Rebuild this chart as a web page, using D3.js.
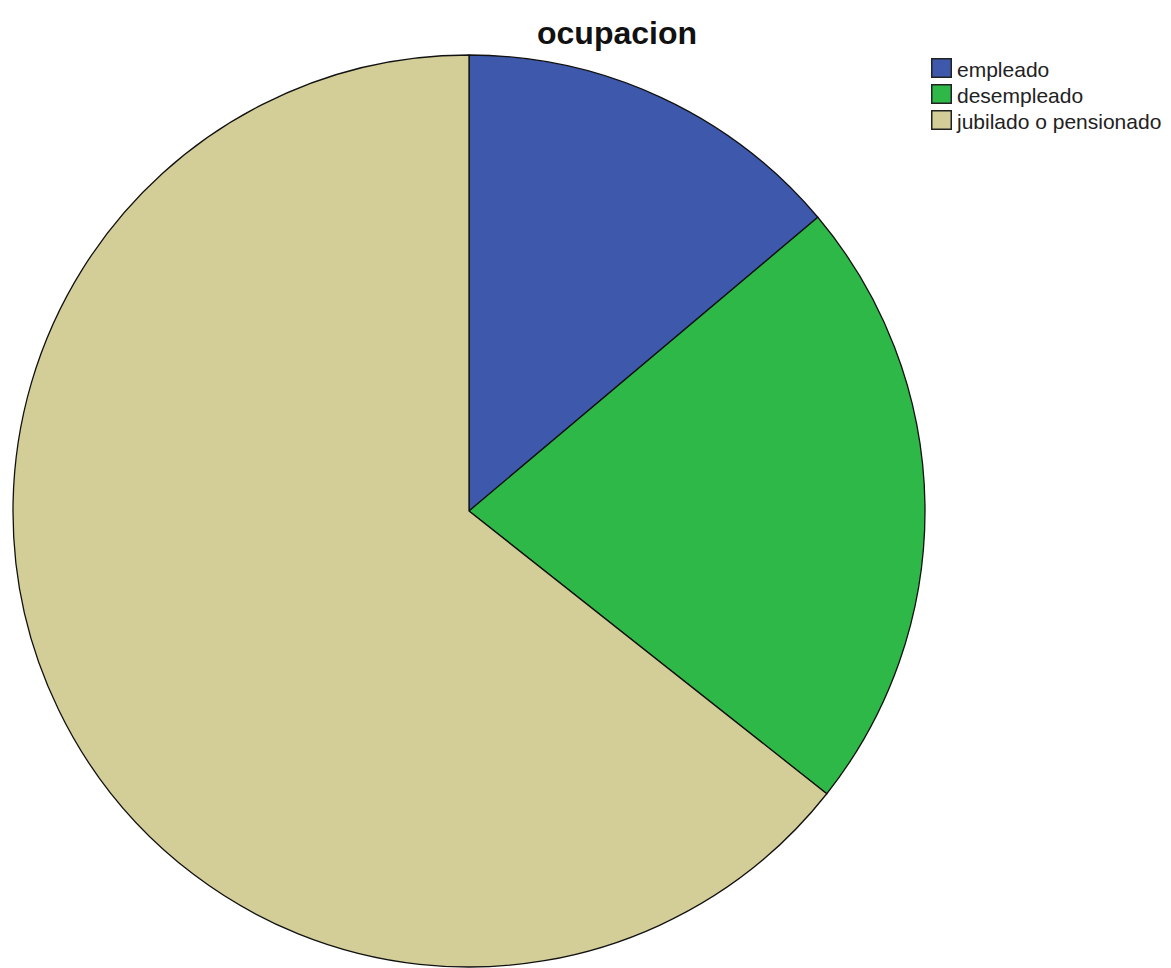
<!DOCTYPE html>
<html>
<head>
<meta charset="utf-8">
<script src="https://cdn.jsdelivr.net/npm/d3@7"></script>
<style>
  html, body { margin: 0; padding: 0; background: #fff; }
  svg { display: block; }
</style>
</head>
<body>
<svg id="chart" width="1171" height="968"></svg>
<script>
// Frequencies of the "ocupacion" variable
const categories = ["empleado", "desempleado", "jubilado o pensionado"];
const counts = [14, 22, 65];
const colors = ["#3E58AC", "#2EB848", "#D3CE97"];

const svg = d3.select("#chart");
const cx = 469, cy = 511, radius = 456;

const data = categories.map((c, i) => ({ name: c, value: counts[i] }));
const color = d3.scaleOrdinal().domain(categories).range(colors);

const pie = d3.pie().sort(null).value(d => d.value).startAngle(0).endAngle(2 * Math.PI);
const arc = d3.arc().innerRadius(0).outerRadius(radius);

const g = svg.append("g").attr("transform", `translate(${cx},${cy})`);
g.selectAll("path.slice")
  .data(pie(data))
  .join("path")
  .attr("class", "slice")
  .attr("d", arc)
  .attr("fill", d => color(d.data.name))
  .attr("stroke", "#111")
  .attr("stroke-width", 1.3)
  .attr("stroke-linejoin", "round");

// Title
svg.append("text")
  .attr("x", 617)
  .attr("y", 44)
  .attr("text-anchor", "middle")
  .attr("font-family", "Liberation Sans, Arial, sans-serif")
  .attr("font-weight", "bold")
  .attr("font-size", 32)
  .attr("fill", "#111")
  .text("ocupacion");

// Legend
const legend = svg.append("g").attr("transform", "translate(931,58)");
const item = legend.selectAll("g.item")
  .data(categories)
  .join("g")
  .attr("class", "item")
  .attr("transform", (d, i) => `translate(0,${i * 26})`);
item.append("rect")
  .attr("x", 0.75).attr("y", 0.75)
  .attr("width", 19.5).attr("height", 18.5)
  .attr("fill", d => color(d))
  .attr("stroke", "#222")
  .attr("stroke-width", 1.5);
item.append("text")
  .attr("x", 26)
  .attr("y", 19)
  .attr("font-family", "Liberation Sans, Arial, sans-serif")
  .attr("font-size", 21)
  .attr("fill", "#222")
  .text(d => d);
</script>
</body>
</html>
